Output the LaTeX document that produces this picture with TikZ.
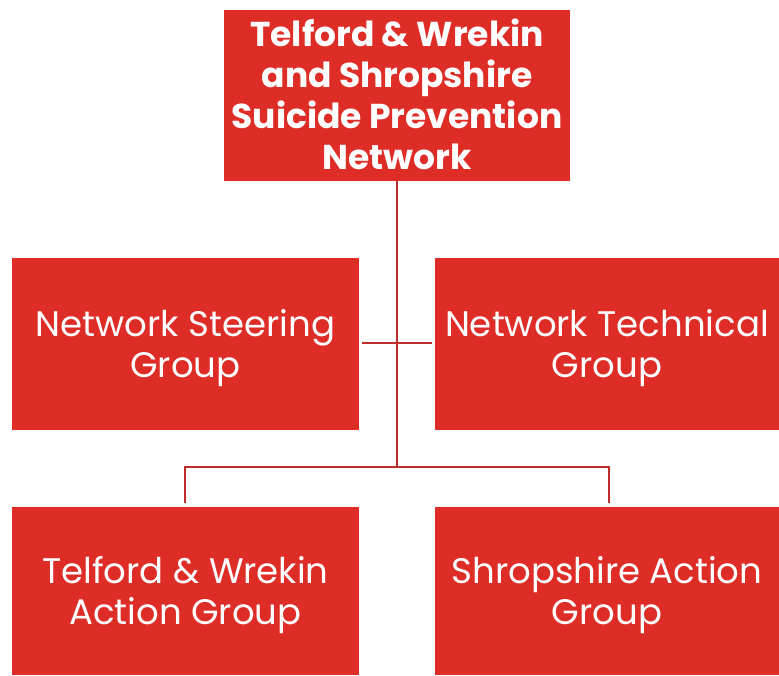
\documentclass[tikz,border=0pt]{standalone}
\usepackage{fontspec}
\setmainfont{Poppins}
\definecolor{boxred}{HTML}{DE2D27}
\definecolor{linered}{HTML}{BE2B2B}
\begin{document}
\begin{tikzpicture}[x=1pt,y=-1pt,
  box/.style={fill=boxred,draw=none,inner sep=0pt},
  lbl/.style={text=white,align=center,inner sep=0pt,font=\fontsize{35.5}{41}\selectfont},
  conn/.style={draw=linered,line width=2.5pt}]
\useasboundingbox (0,0) rectangle (779,675);
\node[box,minimum width=346pt,minimum height=171pt] (top) at (397,95.5) {};
\node[box,minimum width=347pt,minimum height=172pt] (nsg) at (185.5,344) {};
\node[box,minimum width=344pt,minimum height=172pt] (ntg) at (607,344) {};
\node[box,minimum width=347pt,minimum height=168pt] (twa) at (185.5,591) {};
\node[box,minimum width=344pt,minimum height=168pt] (sag) at (607,591) {};
\node[lbl,font=\fontsize{34.5}{41}\selectfont\bfseries] (topt) at ([yshift=1pt]top.center)
  {Telford \& Wrekin\\and Shropshire\\Suicide Prevention\\Network};
\node[lbl] (nsgt) at ([yshift=-4pt]nsg.center) {Network Steering\\Group};
\node[lbl] (ntgt) at ([yshift=-4pt]ntg.center) {Network Technical\\Group};
\node[lbl] (twat) at ([yshift=-4.5pt]twa.center) {Telford \& Wrekin\\Action Group};
\node[lbl] (sagt) at ([yshift=-4.5pt]sag.center) {Shropshire Action\\Group};
\coordinate (j) at (397,467);
\coordinate (l) at (185,467);
\coordinate (r) at (609,467);
\coordinate (ml) at (362,343);
\coordinate (mr) at (432,343);
\draw[conn] (top.south) -- (j);
\draw[conn] (ml) -- (mr);
\draw[conn] (l |- twa.north) ++(0,-4) -- (l) -- (r) -- ++(0,36);
\end{tikzpicture}
\end{document}
